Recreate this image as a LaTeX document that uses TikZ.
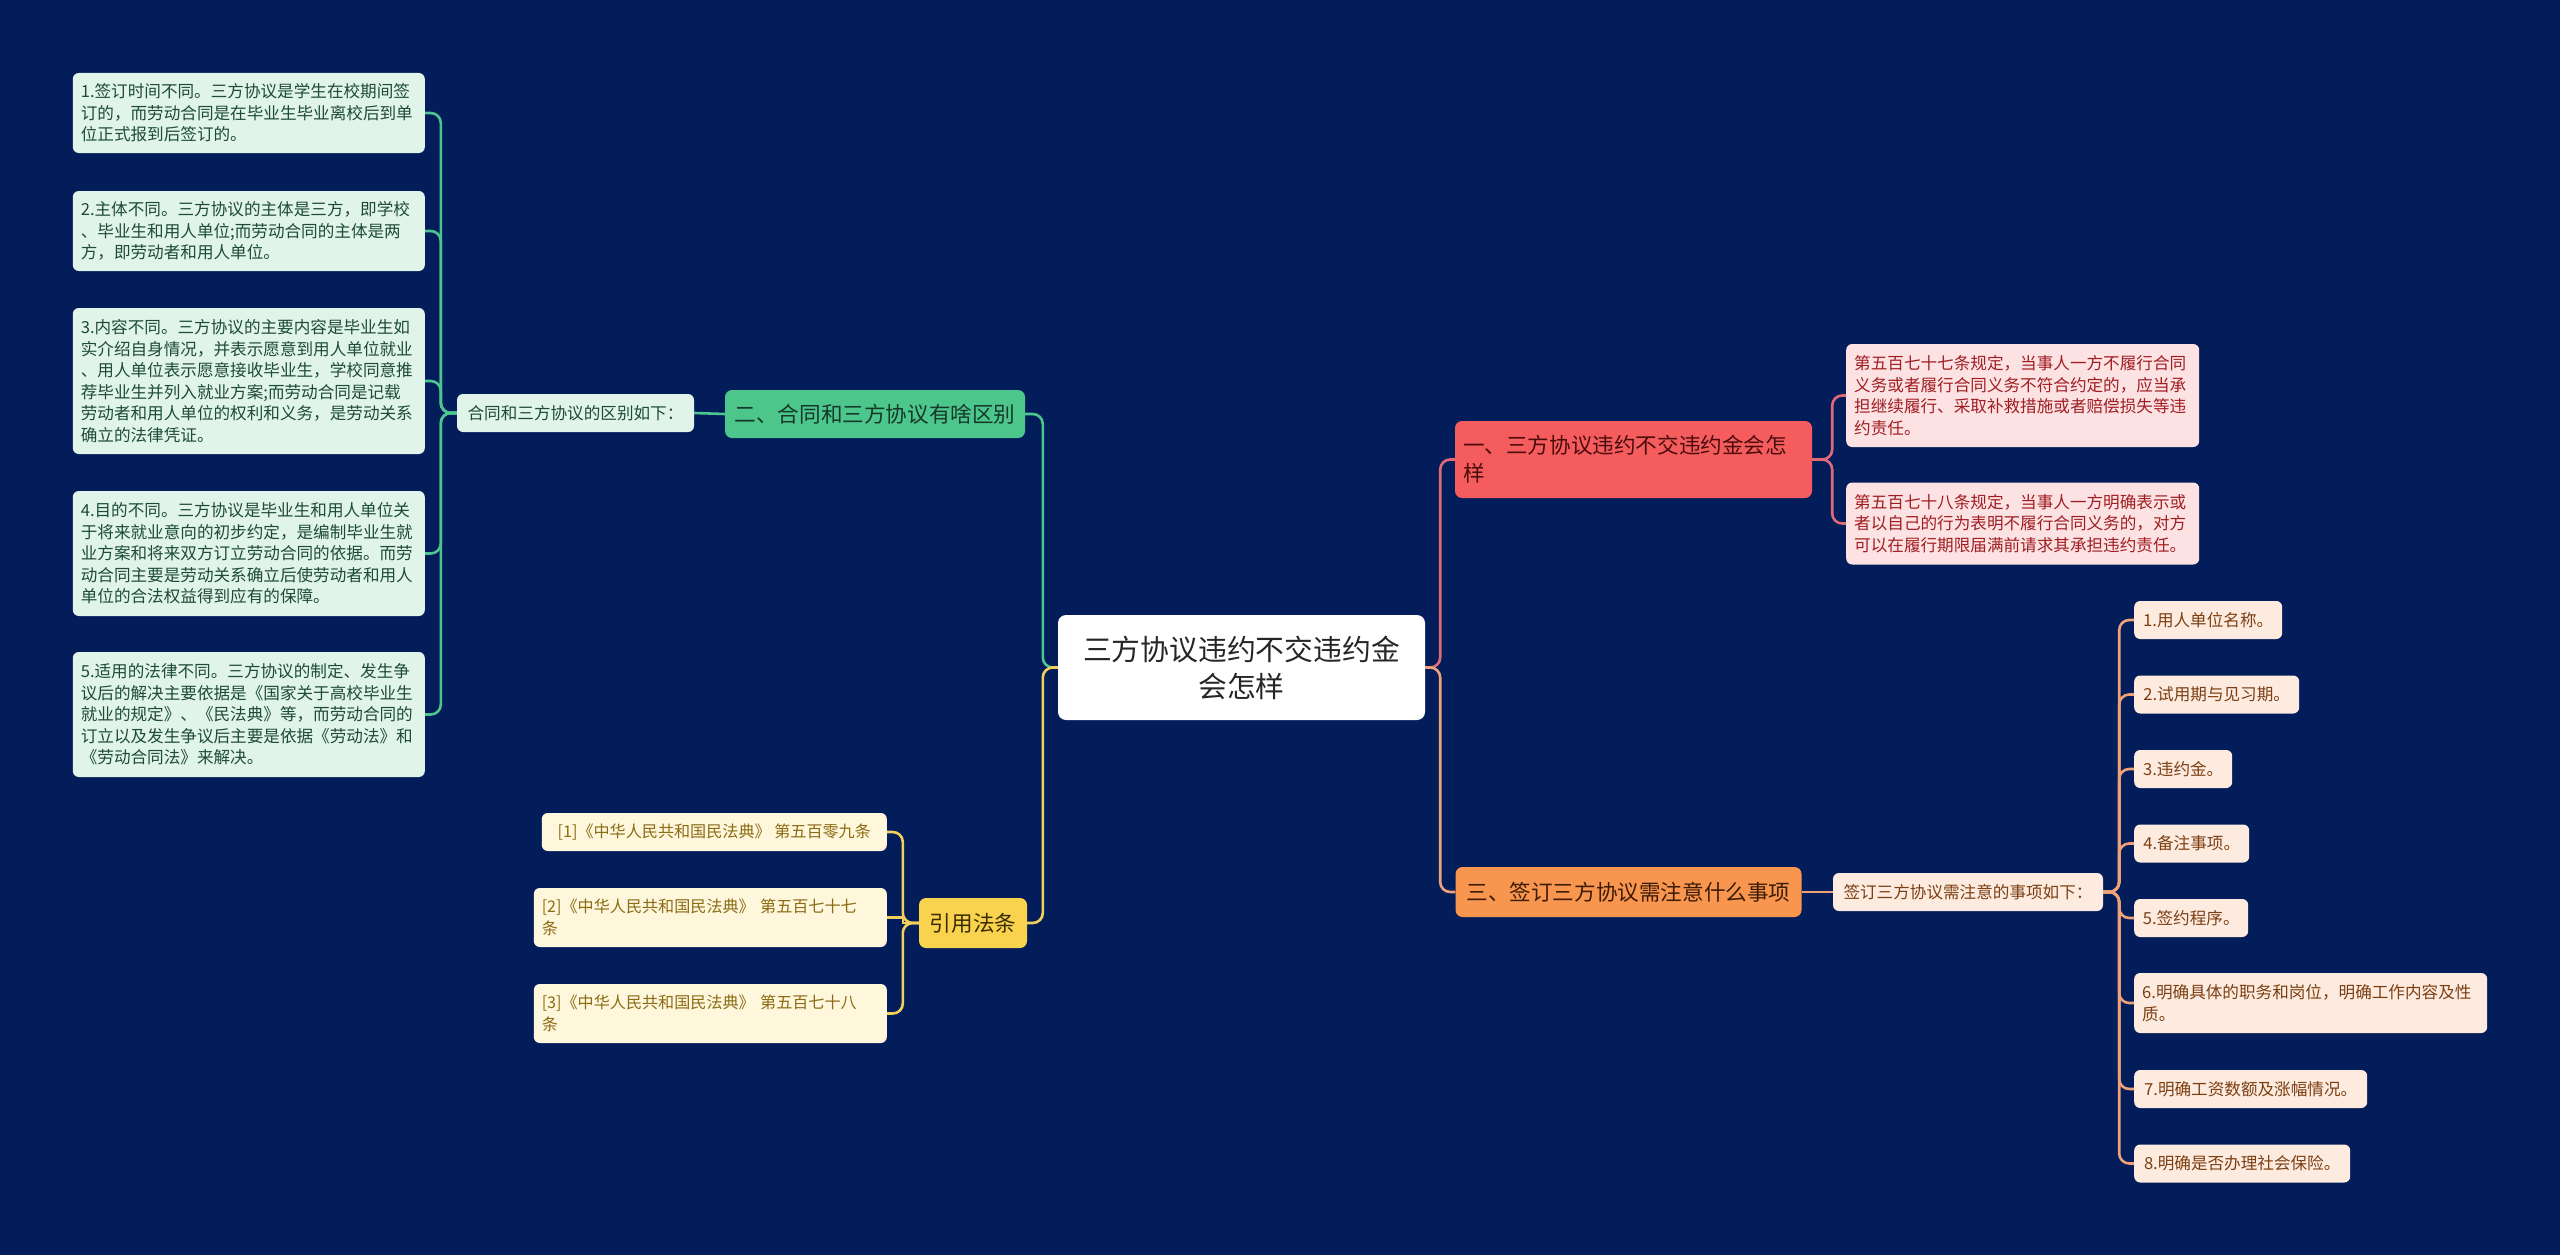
\documentclass[tikz,border=0pt]{standalone}
\usepackage{fontspec}
\setmainfont{Noto Sans CJK SC}
\definecolor{bg}{HTML}{021D59}
\definecolor{gline}{HTML}{4EC590}
\definecolor{gfill}{HTML}{4DC68C}
\definecolor{gtext}{HTML}{16382A}
\definecolor{gleaffill}{HTML}{E1F4EA}
\definecolor{gleaftext}{HTML}{1D4B37}
\definecolor{yline}{HTML}{F3CF5C}
\definecolor{yfill}{HTML}{FAD34E}
\definecolor{ytext}{HTML}{3A2C00}
\definecolor{yleaffill}{HTML}{FFF7DC}
\definecolor{yleaftext}{HTML}{8B6B14}
\definecolor{rline}{HTML}{E06A78}
\definecolor{rfill}{HTML}{F45C5E}
\definecolor{rtext}{HTML}{4A0C0C}
\definecolor{rleaffill}{HTML}{FDE2E3}
\definecolor{rleaftext}{HTML}{A01E22}
\definecolor{oline}{HTML}{EFA27A}
\definecolor{ofill}{HTML}{F8954F}
\definecolor{otext}{HTML}{3D1C06}
\definecolor{oleaffill}{HTML}{FEEBE0}
\definecolor{oleaftext}{HTML}{7B3F12}
\definecolor{ctext}{HTML}{262626}
\tikzset{
  conn/.style={line width=2.6pt, rounded corners=10pt},
  box/.style={rounded corners=6pt, inner xsep=8pt, inner ysep=4pt, align=left},
  leaf/.style={box, font=\fontsize{16.6}{21.5}\selectfont},
  reftext/.style={box, font=\fontsize{16.1}{21.5}\selectfont},
  lone/.style={box, rounded corners=7pt, font=\fontsize{21.6}{28}\selectfont},
  gleaf/.style={leaf, fill=gleaffill, text=gleaftext},
  yleaf/.style={reftext, fill=yleaffill, text=yleaftext},
  rleaf/.style={leaf, fill=rleaffill, text=rleaftext},
  oleaf/.style={leaf, fill=oleaffill, text=oleaftext},
  gone/.style={lone, fill=gfill, text=gtext},
  yone/.style={lone, fill=yfill, text=ytext},
  rone/.style={lone, fill=rfill, text=rtext},
  oone/.style={lone, fill=ofill, text=otext},
  root/.style={rounded corners=8pt, fill=white, text=ctext, align=center, inner sep=8pt,
    font=\fontsize{28.8}{37}\selectfont},
  gconn/.style={conn, draw=gline},
  yconn/.style={conn, draw=yline},
  rconn/.style={conn, draw=rline},
  oconn/.style={conn, draw=oline}
}
\begin{document}
\begin{tikzpicture}[x=1pt,y=-1pt]
\fill[bg] (0,0) rectangle (2560,1255);
\useasboundingbox (0,0) rectangle (2560,1255);

% root
\node[root, text width=351pt, minimum width=367pt, minimum height=105pt] (c) at (1241.5,667.5) {三方协议违约不交违约金\\会怎样};

% level one
\node[gone, minimum width=300pt, minimum height=48pt] (b2) at (875,414) {二、合同和三方协议有啥区别};
\node[yone, minimum width=108pt, minimum height=50pt] (b4) at (973,923) {引用法条};
\node[rone, text width=341pt, minimum height=77pt] (b1) at (1633.5,459.5) {一、三方协议违约不交违约金会怎\\样};
\node[oone, minimum width=346pt, minimum height=50pt] (b3) at (1628.5,892) {三、签订三方协议需注意什么事项};

% green branch
\node[gleaf, minimum width=237pt, minimum height=38pt] (gm) at (575.5,413) {合同和三方协议的区别如下：};
\node[gleaf, anchor=east, text width=336pt, minimum height=80pt] (g1) at (425,113) {1.签订时间不同。三方协议是学生在校期间签\\订的，而劳动合同是在毕业生毕业离校后到单\\位正式报到后签订的。};
\node[gleaf, anchor=east, text width=336pt, minimum height=80pt] (g2) at (425,231) {2.主体不同。三方协议的主体是三方，即学校\\、毕业生和用人单位;而劳动合同的主体是两\\方，即劳动者和用人单位。};
\node[gleaf, anchor=east, text width=336pt, minimum height=146pt] (g3) at (425,381) {3.内容不同。三方协议的主要内容是毕业生如\\实介绍自身情况，并表示愿意到用人单位就业\\、用人单位表示愿意接收毕业生，学校同意推\\荐毕业生并列入就业方案;而劳动合同是记载\\劳动者和用人单位的权利和义务，是劳动关系\\确立的法律凭证。};
\node[gleaf, anchor=east, text width=336pt, minimum height=125pt] (g4) at (425,553.5) {4.目的不同。三方协议是毕业生和用人单位关\\于将来就业意向的初步约定，是编制毕业生就\\业方案和将来双方订立劳动合同的依据。而劳\\动合同主要是劳动关系确立后使劳动者和用人\\单位的合法权益得到应有的保障。};
\node[gleaf, anchor=east, text width=336pt, minimum height=125pt] (g5) at (425,714.5) {5.适用的法律不同。三方协议的制定、发生争\\议后的解决主要依据是《国家关于高校毕业生\\就业的规定》、《民法典》等，而劳动合同的\\订立以及发生争议后主要是依据《劳动法》和\\《劳动合同法》来解决。};

% yellow branch
\node[yleaf, anchor=east, minimum width=345pt, minimum height=38pt] (r1) at (887,832) {[1]《中华人民共和国民法典》 第五百零九条};
\node[yleaf, anchor=east, text width=337pt, minimum height=59pt] (r2) at (887,917.5) {[2]《中华人民共和国民法典》 第五百七十七\\条};
\node[yleaf, anchor=east, text width=337pt, minimum height=59pt] (r3) at (887,1013.5) {[3]《中华人民共和国民法典》 第五百七十八\\条};

% red branch
\node[rleaf, anchor=west, text width=337pt, minimum height=103pt] (pa) at (1846,395.5) {第五百七十七条规定，当事人一方不履行合同\\义务或者履行合同义务不符合约定的，应当承\\担继续履行、采取补救措施或者赔偿损失等违\\约责任。};
\node[rleaf, anchor=west, text width=337pt, minimum height=82pt] (pb) at (1846,523.5) {第五百七十八条规定，当事人一方明确表示或\\者以自己的行为表明不履行合同义务的，对方\\可以在履行期限届满前请求其承担违约责任。};

% orange branch
\node[oleaf, minimum width=270pt, minimum height=38pt] (so) at (1968,892) {签订三方协议需注意的事项如下：};
\node[oleaf, anchor=west, minimum width=148pt, minimum height=38pt] (o1) at (2134,620) {1.用人单位名称。};
\node[oleaf, anchor=west, minimum width=165pt, minimum height=38pt] (o2) at (2134,694.5) {2.试用期与见习期。};
\node[oleaf, anchor=west, minimum width=98pt, minimum height=38pt] (o3) at (2134,769) {3.违约金。};
\node[oleaf, anchor=west, minimum width=115pt, minimum height=38pt] (o4) at (2134,843.5) {4.备注事项。};
\node[oleaf, anchor=west, minimum width=114pt, minimum height=38pt] (o5) at (2134,918) {5.签约程序。};
\node[oleaf, anchor=west, text width=337pt, minimum height=60pt] (o6) at (2134,1003) {6.明确具体的职务和岗位，明确工作内容及性\\质。};
\node[oleaf, anchor=west, minimum width=233pt, minimum height=38pt] (o7) at (2134,1089) {7.明确工资数额及涨幅情况。};
\node[oleaf, anchor=west, minimum width=216pt, minimum height=38pt] (o8) at (2134,1163.5) {8.明确是否办理社会保险。};

% connectors
\draw[gconn] (c.west) -- ++(-15,0) |- (b2.east);
\draw[yconn] (c.west) -- ++(-15,0) |- (b4.east);
\draw[rconn] (c.east) -- ++(15,0) |- (b1.west);
\draw[oconn] (c.east) -- ++(15,0) |- (b3.west);

\draw[gconn] (b2.west) -- (gm.east);
\foreach \n in {g1,g2,g3,g4,g5}
  \draw[gconn] (gm.west) -- ++(-16,0) |- (\n.east);

\foreach \n in {r1,r3}
  \draw[yconn] (b4.west) -- ++(-16,0) |- (\n.east);
\draw[yconn, rounded corners=0pt] (b4.west) -- ++(-16,0) |- (r2.east);

\foreach \n in {pa,pb}
  \draw[rconn] (b1.east) -- ++(20,0) |- (\n.west);

\draw[oconn] (b3.east) -- (so.west);
\foreach \n in {o1,o2,o3,o4,o5,o6,o7,o8}
  \draw[oconn] (so.east) -- ++(16,0) |- (\n.west);
\end{tikzpicture}
\end{document}
